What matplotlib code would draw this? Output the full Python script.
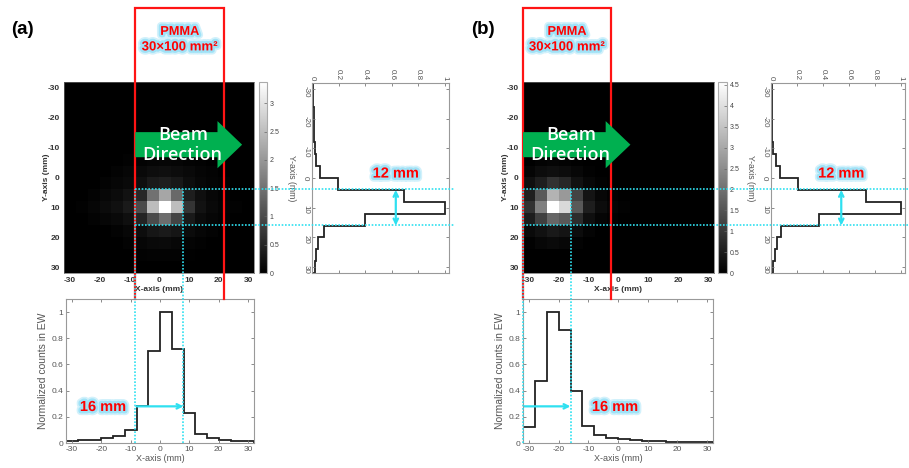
import numpy as np
import matplotlib
matplotlib.use("Agg")
import matplotlib.pyplot as plt
import matplotlib.patheffects as pe
from matplotlib.patches import FancyArrow, FancyArrowPatch
from matplotlib.lines import Line2D
from matplotlib.ticker import FormatStrFormatter

plt.rcParams['font.family'] = ['Liberation Sans', 'DejaVu Sans']
plt.rcParams['axes.unicode_minus'] = False

W, H = 909, 468

# 4 mm bins from -32 to 32 mm
edges = np.arange(-32, 33, 4)
pos_ticks = [-30, -20, -10, 0, 10, 20, 30]
prof_ticks = [0, 0.2, 0.4, 0.6, 0.8, 1]

# (a) normalized profiles
prof_x_a = [0.013, 0.02, 0.025, 0.038, 0.05, 0.10, 0.28, 0.70, 1.0, 0.72, 0.23, 0.07, 0.035, 0.025, 0.018, 0.013]
prof_y_a = [0.008, 0.01, 0.012, 0.014, 0.016, 0.02, 0.03, 0.062, 0.195, 0.69, 1.0, 0.395, 0.09, 0.045, 0.03, 0.02]
# (b) normalized profiles
prof_x_b = [0.12, 0.475, 1.0, 0.86, 0.395, 0.127, 0.06, 0.04, 0.027, 0.02, 0.018, 0.013, 0.01, 0.008, 0.008, 0.007]
prof_y_b = [0.004, 0.005, 0.006, 0.008, 0.01, 0.018, 0.038, 0.068, 0.205, 0.73, 1.0, 0.37, 0.08, 0.043, 0.03, 0.018]

# (a) counts image, rows = y bins (top = -32), cols = x bins
img_a = [
    [0] * 16,
    [0] * 16,
    [0] * 16,
    [0] * 16,
    [0] * 16,
    [0, 0, 0, 0, 0, 0, 0.02, 0.03, 0.03, 0.03, 0.02, 0, 0, 0, 0, 0],
    [0, 0, 0, 0, 0, 0.03, 0.05, 0.07, 0.08, 0.07, 0.05, 0.03, 0, 0, 0, 0],
    [0, 0, 0, 0, 0.04, 0.08, 0.12, 0.18, 0.2, 0.17, 0.12, 0.07, 0.04, 0, 0, 0],
    [0, 0, 0, 0.05, 0.08, 0.12, 0.2, 0.35, 0.4, 0.33, 0.18, 0.1, 0.06, 0.03, 0, 0],
    [0, 0, 0.05, 0.1, 0.15, 0.25, 0.55, 1.5, 2.2, 1.4, 0.4, 0.2, 0.1, 0.05, 0, 0],
    [0, 0.03, 0.08, 0.15, 0.22, 0.35, 1.0, 2.5, 3.38, 2.5, 0.7, 0.25, 0.12, 0.06, 0.03, 0],
    [0, 0, 0.04, 0.08, 0.12, 0.2, 0.5, 1.0, 1.45, 0.9, 0.35, 0.15, 0.08, 0.04, 0, 0],
    [0, 0, 0, 0, 0.05, 0.1, 0.18, 0.3, 0.35, 0.28, 0.15, 0.08, 0.04, 0, 0, 0],
    [0, 0, 0, 0, 0, 0.05, 0.08, 0.12, 0.14, 0.1, 0.06, 0.03, 0, 0, 0, 0],
    [0, 0, 0, 0, 0, 0, 0.03, 0.05, 0.05, 0.04, 0.02, 0, 0, 0, 0, 0],
    [0] * 16,
]
# (b) counts image
img_b = [
    [0] * 16,
    [0] * 16,
    [0] * 16,
    [0] * 16,
    [0] * 16,
    [0] * 16,
    [0, 0.07, 0.09, 0.07, 0.03, 0, 0, 0, 0, 0, 0, 0, 0, 0, 0, 0],
    [0.1, 0.23, 0.27, 0.23, 0.14, 0.05, 0, 0, 0, 0, 0, 0, 0, 0, 0, 0],
    [0.3, 0.55, 0.9, 0.7, 0.32, 0.14, 0.05, 0, 0, 0, 0, 0, 0, 0, 0, 0],
    [0.6, 1.6, 3.2, 2.74, 1.2, 0.37, 0.14, 0.05, 0, 0, 0, 0, 0, 0, 0, 0],
    [0.9, 2.29, 4.57, 3.88, 1.6, 0.55, 0.23, 0.1, 0.04, 0, 0, 0, 0, 0, 0, 0],
    [0.5, 1.14, 1.83, 1.6, 0.8, 0.27, 0.1, 0.04, 0, 0, 0, 0, 0, 0, 0, 0],
    [0.18, 0.32, 0.46, 0.37, 0.23, 0.08, 0, 0, 0, 0, 0, 0, 0, 0, 0, 0],
    [0.05, 0.14, 0.18, 0.14, 0.07, 0, 0, 0, 0, 0, 0, 0, 0, 0, 0, 0],
    [0] * 16,
    [0] * 16,
]
cmax_a, cmax_b = 3.38, 4.57
cticks_a = [0, 0.5, 1, 1.5, 2, 2.5, 3]
cticks_b = [0, 0.5, 1, 1.5, 2, 2.5, 3, 3.5, 4, 4.5]

# phantom extent and FWHM markers (mm)
pmma_a = (-8, 22)
pmma_b = (-32, -2.5)
fwhm_y = (4, 16)
fwhm_x_a = (-8, 8)
fwhm_x_b = (-32, -16)
beam_len = 36

CYAN = '#2fe0f0'
GLOW = [pe.Stroke(linewidth=6, foreground='#d2f1fb'),
        pe.Stroke(linewidth=3.5, foreground='#9fe2f7'), pe.Normal()]

fig = plt.figure(figsize=(W / 100, H / 100), dpi=100)


def px_axes(box):
    x0, y0, x1, y1 = box
    return fig.add_axes([x0 / W, 1 - y1 / H, (x1 - x0) / W, (y1 - y0) / H])


def to_fig(trans, x, y):
    return fig.transFigure.inverted().transform(trans.transform((x, y)))


def style_profile(ax):
    for s in ax.spines.values():
        s.set_color('#999999')
        s.set_linewidth(0.8)
    ax.tick_params(direction='in', length=2.5, width=0.6, color='#777777',
                   labelcolor='#555555', pad=2)


def panel(tag, boxes, img, cmax, cticks, px, py, pmma, fx, txt16_x, txt12_x):
    b_im, b_cb, b_r, b_b, tag_xy = boxes

    # --- 2D image
    ax_im = px_axes(b_im)
    im = ax_im.imshow(np.array(img, dtype=float), cmap='gray', vmin=0, vmax=cmax,
                      extent=(-32, 32, 32, -32), aspect='auto', interpolation='nearest')
    ax_im.set_xticks(pos_ticks)
    ax_im.set_yticks(pos_ticks)
    ax_im.tick_params(length=0, labelsize=6, pad=3, labelcolor='#333333')
    for t in ax_im.get_xticklabels() + ax_im.get_yticklabels():
        t.set_fontweight('bold')
    ax_im.set_xlabel('X-axis (mm)', fontsize=6, fontweight='bold', color='#333333', labelpad=1)
    ax_im.set_ylabel('Y-axis (mm)', fontsize=6, fontweight='bold', color='#333333', va='center')
    ax_im.yaxis.set_label_coords(-0.09, 0.5)
    for s in ax_im.spines.values():
        s.set_color('#666666')
        s.set_linewidth(0.5)

    # --- colorbar
    cax = px_axes(b_cb)
    cb = fig.colorbar(im, cax=cax, ticks=cticks)
    cb.outline.set_edgecolor('#aaaaaa')
    cb.outline.set_linewidth(0.8)
    cax.yaxis.set_major_formatter(FormatStrFormatter('%g'))
    cax.tick_params(labelsize=5, length=2, width=0.5, direction='in', color='#666666',
                    labelcolor='#444444', pad=2)

    # --- Y profile (rotated)
    ax_r = px_axes(b_r)
    ax_r.stairs(py, edges, orientation='horizontal', baseline=0, color='#222222', lw=1.3)
    ax_r.set_xlim(0, 1.03)
    ax_r.set_ylim(32, -32)
    ax_r.set_xticks(prof_ticks)
    ax_r.xaxis.set_major_formatter(FormatStrFormatter('%g'))
    ax_r.set_yticks(pos_ticks)
    ax_r.xaxis.tick_top()
    style_profile(ax_r)
    ax_r.tick_params(labelsize=5.8, labelrotation=-90, top=True, bottom=True, left=True, right=True)
    ax_r.set_ylabel('Y-axis (mm)', fontsize=6.3, color='#555555', rotation=-90, va='center')
    ax_r.yaxis.set_label_coords(-0.15, 0.5)

    # --- X profile
    ax_b = px_axes(b_b)
    ax_b.stairs(px, edges, baseline=0, color='#222222', lw=1.3)
    ax_b.set_xlim(-32, 32)
    ax_b.set_ylim(0, 1.1)
    ax_b.set_xticks(pos_ticks)
    ax_b.set_yticks(prof_ticks)
    ax_b.yaxis.set_major_formatter(FormatStrFormatter('%g'))
    style_profile(ax_b)
    ax_b.tick_params(labelsize=6, top=True, right=True)
    ax_b.set_xlabel('X-axis (mm)', fontsize=6.5, color='#555555', labelpad=1)
    ax_b.set_ylabel('Normalized counts in EW', fontsize=7.5, color='#555555', va='center')
    ax_b.yaxis.set_label_coords(-0.122, 0.5)

    # --- FWHM guide lines
    y_bot = to_fig(ax_b.transData, 0, 0)[1]
    for x in fx:
        xf, yf = to_fig(ax_im.transData, x, fwhm_y[0])
        fig.add_artist(Line2D([xf, xf], [y_bot, yf], color=CYAN, lw=1.2,
                              ls=(0, (1, 1)), zorder=4))
    x_end = to_fig(ax_r.transAxes, 1.045, 0)[0]
    for y in fwhm_y:
        xf, yf = to_fig(ax_im.transData, fx[0], y)
        fig.add_artist(Line2D([xf, x_end], [yf, yf], color=CYAN, lw=1.2,
                              ls=(0, (1, 1)), zorder=4))

    ax_r.add_patch(FancyArrowPatch((txt12_x, fwhm_y[0]), (txt12_x, fwhm_y[1]), arrowstyle='<->',
                                   mutation_scale=8, color=CYAN, lw=1.6, shrinkA=0, shrinkB=0))
    ax_r.text(txt12_x, -1.5, '12 mm', color='red', fontsize=10.5, fontweight='bold',
              ha='center', va='center', path_effects=GLOW)
    ax_b.add_patch(FancyArrowPatch((fx[0], 0.28), (fx[1], 0.28), arrowstyle='->',
                                   mutation_scale=8, color=CYAN, lw=1.6, shrinkA=0, shrinkB=0))
    ax_b.text(txt16_x, 0.275, '16 mm', color='red', fontsize=10.5, fontweight='bold',
              ha='center', va='center', path_effects=GLOW)

    # --- PMMA phantom box
    xl = to_fig(ax_im.transData, pmma[0], 0)[0]
    xr = to_fig(ax_im.transData, pmma[1], 0)[0]
    y_top = 1 - 8 / H
    y_b1 = ax_b.get_position().y1
    fig.add_artist(Line2D([xl, xl, xr, xr], [y_b1, y_top, y_top, y_b1], color='#ff1414',
                          lw=1.6, zorder=3, solid_joinstyle='miter'))
    xc = (pmma[0] + pmma[1]) / 2
    fig.text(xc, -48.8, 'PMMA', transform=ax_im.transData, color='red', fontsize=9.2,
             fontweight='bold', ha='center', va='center', path_effects=GLOW, zorder=6)
    fig.text(xc, -43.6, '30×100 mm²', transform=ax_im.transData, color='red', fontsize=9.5,
             fontweight='bold', ha='center', va='center', path_effects=GLOW, zorder=6)

    # --- beam direction arrow
    fig.add_artist(FancyArrow(pmma[0], -11, beam_len, 0, width=8.4, head_width=15.8,
                              head_length=8.3, length_includes_head=True, color='#00b050',
                              lw=0, transform=ax_im.transData, zorder=5))
    for dy, word in [(-14.4, 'Beam'), (-7.4, 'Direction')]:
        fig.text(pmma[0] + 16, dy, word, transform=ax_im.transData, color='white',
                 fontsize=13, fontweight='semibold', family=['Open Sans', 'DejaVu Sans'],
                 ha='center', va='center', zorder=6)

    fig.text(tag_xy[0] / W, 1 - tag_xy[1] / H, tag, fontsize=13.5, fontweight='bold',
             ha='center', va='center')


panel('(a)',
      [(64, 82, 254, 273), (259, 82, 267, 273), (312, 83, 449, 273), (66, 299, 254, 443), (22, 30)],
      img_a, cmax_a, cticks_a, prof_x_a, prof_y_a, pmma_a, fwhm_x_a, -19.4, 0.63)
panel('(b)',
      [(523, 82, 714, 273), (718, 82, 727, 273), (771, 83, 905, 273), (523, 299, 713, 443), (483, 30)],
      img_b, cmax_b, cticks_b, prof_x_b, prof_y_b, pmma_b, fwhm_x_b, -1.0, 0.54)

fig.savefig('out.png', dpi=100)
